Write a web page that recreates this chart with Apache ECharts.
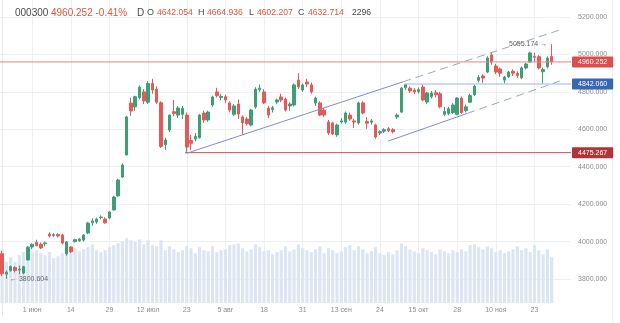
<!DOCTYPE html>
<html>
<head>
<meta charset="utf-8">
<script src="https://cdn.jsdelivr.net/npm/echarts@6/dist/echarts.min.js"></script>
<style>
  html, body { margin: 0; padding: 0; background: #ffffff; }
  #chart { width: 620px; height: 323px; }
</style>
</head>
<body>
<div id="chart"></div>
<script>
// CSI 300 (000300), daily bars, 22 May – 30 Nov 2020
const ticker = '000300';
const holidays = ['2020-06-25', '2020-06-26', '2020-10-01', '2020-10-02',
  '2020-10-05', '2020-10-06', '2020-10-07', '2020-10-08'];

const open = [
  3935, 3826, 3846, 3862, 3848, 3832, 3902, 3971, 3997, 3985,
  3988, 4040, 4032, 4038, 4035, 3935, 3971, 4000, 4005, 4008,
  4046, 4100, 4105, 4128, 4120, 4126, 4169, 4244, 4345, 4463,
  4740, 4720, 4770, 4800, 4745, 4845, 4815, 4742, 4518, 4596,
  4694, 4676, 4680, 4676, 4540, 4548, 4555, 4687, 4650, 4730,
  4800, 4770, 4774, 4741, 4680, 4735, 4666, 4655, 4623, 4719,
  4812, 4800, 4714, 4706, 4746, 4773, 4762, 4725, 4730, 4863,
  4810, 4853, 4837, 4740, 4741, 4703, 4639, 4634, 4570, 4639,
  4639, 4676, 4645, 4634, 4741, 4642.054, 4638, 4623, 4580, 4590,
  4603, 4598, 4666, 4692, 4822, 4820, 4810, 4802, 4826, 4746,
  4775, 4795, 4790, 4680, 4685, 4690, 4680, 4767, 4700, 4745,
  4785, 4862, 4885, 4906, 4997, 4938, 4922, 4863, 4880, 4910,
  4898, 4875, 4928, 4960, 4990, 4988, 4908, 4935, 4990
];
const close = [
  3828, 3836, 3866, 3845, 3852, 3866, 3970, 3985, 3978, 3966,
  3993, 4030, 4037, 4030, 3992, 3998, 3945, 4010, 4013, 4035,
  4099, 4110, 4120, 4131, 4100, 4158, 4238, 4329, 4409, 4666,
  4698, 4774, 4825, 4752, 4845, 4810, 4745, 4508, 4543, 4676,
  4685, 4714, 4712, 4505, 4525, 4562, 4676, 4650, 4692, 4773,
  4780, 4776, 4757, 4703, 4725, 4682, 4634, 4630, 4703, 4815,
  4820, 4741, 4676, 4715, 4757, 4757, 4703, 4735, 4837, 4826,
  4837, 4842, 4800, 4767, 4676, 4676, 4580, 4575, 4623, 4645,
  4687, 4655, 4639, 4741, 4687, 4632.714, 4645, 4559, 4587, 4598,
  4592, 4587, 4676, 4820, 4838, 4805, 4800, 4812, 4757, 4794,
  4794, 4785, 4720, 4695, 4710, 4730, 4767, 4690, 4720, 4780,
  4830, 4878, 4874, 4981, 4960, 4906, 4900, 4879, 4906, 4900,
  4887, 4928, 4949, 5008, 4985, 4928, 4920, 4980.77, 4960.252
];
const low = [
  3815, 3800.604, 3838, 3835, 3826, 3825, 3898, 3960, 3975, 3960,
  3975, 4022, 4025, 4022, 3985, 3925, 3938, 3995, 3998, 4000,
  4040, 4085, 4095, 4118, 4095, 4120, 4165, 4240, 4340, 4460,
  4672, 4700, 4760, 4735, 4735, 4790, 4735, 4500, 4490, 4585,
  4670, 4660, 4655, 4475.267, 4490, 4535, 4550, 4635, 4640, 4720,
  4770, 4755, 4740, 4690, 4670, 4655, 4570, 4620, 4615, 4710,
  4800, 4735, 4660, 4690, 4735, 4745, 4695, 4700, 4722, 4815,
  4800, 4825, 4790, 4725, 4670, 4665, 4570, 4568, 4560, 4630,
  4630, 4645, 4607, 4625, 4680, 4602.207, 4625, 4550, 4570, 4580,
  4585, 4578, 4655, 4688, 4810, 4795, 4788, 4790, 4750, 4735,
  4765, 4770, 4712, 4670, 4675, 4682, 4675, 4683, 4690, 4740,
  4778, 4850, 4848, 4900, 4945, 4895, 4880, 4845, 4875, 4885,
  4875, 4868, 4920, 4955, 4960, 4920, 4845, 4925, 4945
];
const high = [
  3950, 3845, 3872, 3868, 3872, 3870, 3975, 3990, 4010, 3995,
  4000, 4050, 4045, 4045, 4042, 4003, 3975, 4015, 4020, 4040,
  4105, 4125, 4128, 4140, 4130, 4162, 4245, 4335, 4418, 4672,
  4768, 4780, 4835, 4815, 4858, 4870, 4830, 4750, 4555, 4680,
  4757, 4725, 4725, 4690, 4570, 4580, 4682, 4700, 4700, 4780,
  4822, 4790, 4785, 4750, 4735, 4760, 4675, 4665, 4710, 4825,
  4840, 4815, 4725, 4725, 4765, 4790, 4770, 4745, 4845, 4900,
  4845, 4870, 4850, 4775, 4750, 4715, 4650, 4640, 4630, 4660,
  4695, 4690, 4655, 4748, 4750, 4664.936, 4655, 4630, 4595, 4606,
  4612, 4606, 4685, 4826, 4842.06, 4830, 4820, 4825, 4838, 4800,
  4805, 4810, 4800, 4720, 4720, 4740, 4772, 4775, 4732, 4790,
  4838, 4890, 4895, 4990, 5010, 4950, 4930, 4885, 4912, 4920,
  4910, 4935, 4955, 5015, 5010, 4996, 4930, 4990, 5055.174
];
const volume = [
  2440, 1890, 2120, 1890, 2210, 2350, 2620, 2350, 2440, 2300,
  2210, 2350, 2070, 2160, 2300, 2440, 2300, 2530, 2390, 2480,
  2580, 2710, 2440, 2350, 2440, 2580, 2670, 2760, 2850, 2990,
  2900, 2810, 2940, 2710, 2900, 2670, 2620, 2900, 2440, 2620,
  2480, 2350, 2440, 2620, 2530, 2300, 2580, 2440, 2390, 2620,
  2350, 2440, 2480, 2670, 2710, 2760, 2530, 2390, 2480, 2710,
  2580, 2390, 2440, 2250, 2350, 2440, 2620, 2390, 2480, 2710,
  2530, 2440, 2350, 2480, 2620, 2300, 2530, 2440, 2300, 2390,
  2580, 2670, 2440, 2620, 2480, 2296, 2390, 2580, 2300, 2210,
  2350, 2250, 2440, 2760, 2620, 2480, 2390, 2300, 2530, 2440,
  2350, 2250, 2480, 2390, 2300, 2440, 2350, 2480, 2390, 2670,
  2710, 2580, 2480, 2620, 2530, 2350, 2440, 2300, 2390, 2480,
  2620, 2440, 2530, 2350, 2670, 2440, 2250, 2480, 2120
];

// Date labels under the axis, keyed by the bar they sit on
const xTicks = {
  '2020-06-02': '1 июн', '2020-06-15': '14', '2020-06-30': '29',
  '2020-07-13': '12 июл', '2020-07-24': '23', '2020-08-06': '5 авг',
  '2020-08-19': '18', '2020-09-01': '31', '2020-09-14': '13 сен',
  '2020-09-25': '24', '2020-10-16': '15 окт', '2020-10-29': '28',
  '2020-11-11': '10 ноя', '2020-11-24': '23'
};

// Horizontal levels: price and the bar they start from (null = whole width)
const levels = [
  { price: 4960.252, from: null, line: '#ee8080', box: '#e04c4c' },
  { price: 4842.06, from: '2020-10-13', line: '#9fb5de', box: '#3667b0' },
  { price: 4475.267, from: '2020-07-24', line: '#bf5652', box: '#b23535' }
];

// Channel lines as [bar index, price]; solid up to `solidTo`, dashed beyond
const channels = [
  { a: [43, 4472], b: [129.9, 5131], solidTo: 93.4 },
  { a: [89.9, 4537], b: [129.9, 4858], solidTo: 108.3 }
];

// Bar the legend row describes
const legendBar = '2020-09-22';

function tradingDays(from, to, skip) {
  const out = [];
  const d = new Date(from + 'T00:00:00Z');
  const end = new Date(to + 'T00:00:00Z');
  while (d <= end) {
    const s = d.toISOString().slice(0, 10);
    const wd = d.getUTCDay();
    if (wd !== 0 && wd !== 6 && skip.indexOf(s) < 0) out.push(s);
    d.setUTCDate(d.getUTCDate() + 1);
  }
  return out;
}

// four spare sessions on the right leave room before the price scale
const dates = tradingDays('2020-05-22', '2020-12-04', holidays);
const n = close.length;
const xMax = dates.length - 0.5;

const up = '#3d9f74', down = '#e35a58', red = '#e0553f', ink = '#4a4a4a';
const font = 'Liberation Sans, Arial, sans-serif';

const candles = open.map((o, i) => [o, close[i], low[i], high[i]]);
const lastClose = close[n - 1];
const chg = (lastClose - close[n - 2]) / close[n - 2] * 100;
const li = dates.indexOf(legendBar);

let lowIdx = 0, highIdx = 0;
for (let i = 1; i < n; i++) {
  if (low[i] < low[lowIdx]) lowIdx = i;
  if (high[i] > high[highIdx]) highIdx = i;
}

function along(ch, x) {
  const t = (x - ch.a[0]) / (ch.b[0] - ch.a[0]);
  return [x, ch.a[1] + t * (ch.b[1] - ch.a[1])];
}

const series = [];
series.push({
  type: 'bar', xAxisIndex: 1, yAxisIndex: 1, data: volume,
  barWidth: '74%', silent: true, z: 1,
  itemStyle: { color: '#dbe6f2' }
});
series.push({
  type: 'candlestick', xAxisIndex: 0, yAxisIndex: 0, data: candles,
  barWidth: 3, z: 3, silent: true,
  itemStyle: { color: up, color0: down, borderColor: up, borderColor0: down, borderWidth: 1 },
  markPoint: {
    symbol: 'circle', symbolSize: 1, silent: true,
    itemStyle: { color: 'rgba(0,0,0,0)' },
    label: { show: true, fontSize: 7, color: '#666', fontFamily: font },
    data: [
      { coord: [dates[lowIdx], low[lowIdx]],
        label: { position: 'right', distance: 3, formatter: '\u2190 ' + low[lowIdx].toFixed(3) } },
      { coord: [dates[highIdx], high[highIdx]],
        label: { position: 'left', distance: 4, formatter: high[highIdx].toFixed(3) + ' \u2192' } }
    ]
  }
});
levels.forEach(lv => {
  const x0 = lv.from ? dates.indexOf(lv.from) - 0.4 : -0.5;
  series.push({
    type: 'line', xAxisIndex: 2, yAxisIndex: 0, symbol: 'none', silent: true, z: 4,
    data: [[x0, lv.price], [xMax, lv.price]],
    lineStyle: { color: lv.line, width: 1 },
    endLabel: {
      show: true, distance: 1, formatter: () => lv.price.toFixed(3),
      backgroundColor: lv.box, color: '#fff', fontSize: 7, fontFamily: font,
      padding: [2, 6], borderRadius: 1
    }
  });
});
channels.forEach(ch => {
  const mid = along(ch, ch.solidTo);
  series.push({
    type: 'line', xAxisIndex: 2, yAxisIndex: 0, symbol: 'none', silent: true, z: 4,
    data: [ch.a, mid], lineStyle: { color: '#8090bd', width: 1 }
  });
  series.push({
    type: 'line', xAxisIndex: 2, yAxisIndex: 0, symbol: 'none', silent: true, z: 4,
    data: [mid, ch.b], lineStyle: { color: '#9ba7c6', width: 1, type: [8, 5] }
  });
});

const split = '#eceff3';
const priceSplitColors = ['rgba(0,0,0,0)'];
for (let i = 0; i < 8; i++) priceSplitColors.push(split);
priceSplitColors.push('rgba(0,0,0,0)');

const isTick = (idx, val) => Object.prototype.hasOwnProperty.call(xTicks, val);

const legendParts = [
  { t: ticker, x: 15, c: ink, s: 10 },
  { t: lastClose.toFixed(3) + ' ' + chg.toFixed(2) + '%', x: 51, c: red, s: 10 },
  { t: 'D', x: 137, c: ink, s: 10 },
  { t: 'O', x: 147, c: ink, s: 9 },
  { t: open[li].toFixed(3), x: 157, c: red, s: 8.6 },
  { t: 'H', x: 198, c: ink, s: 9 },
  { t: high[li].toFixed(3), x: 207, c: red, s: 8.6 },
  { t: 'L', x: 249, c: ink, s: 9 },
  { t: low[li].toFixed(3), x: 257, c: red, s: 8.6 },
  { t: 'C', x: 298, c: ink, s: 9 },
  { t: close[li].toFixed(3), x: 308, c: red, s: 8.6 },
  { t: String(volume[li]), x: 352, c: ink, s: 8.6 }
];

const option = {
  animation: false,
  backgroundColor: '#ffffff',
  textStyle: { fontFamily: font },
  grid: [
    { left: 0, right: 49, top: 0, bottom: 6.6 },
    { left: 0, right: 49, top: 0, bottom: 20 }
  ],
  xAxis: [
    { type: 'category', gridIndex: 0, data: dates, show: false },
    {
      type: 'category', gridIndex: 1, data: dates,
      axisLine: { show: false }, axisTick: { show: false },
      axisLabel: {
        interval: isTick, formatter: v => xTicks[v] || '',
        fontSize: 7, color: '#8d8d8d', margin: 4, fontFamily: font
      },
      splitLine: { show: true, interval: isTick, alignWithLabel: true, lineStyle: { color: split, width: 1 } }
    },
    { type: 'value', gridIndex: 0, min: -0.5, max: xMax, show: false }
  ],
  yAxis: [
    {
      type: 'value', gridIndex: 0, position: 'right', min: 3600, max: 5291.2, interval: 200,
      axisLine: { show: true, lineStyle: { color: '#e4e7eb' } },
      axisTick: { show: false },
      axisLabel: {
        formatter: v => v.toFixed(3), fontSize: 7, color: '#8d8d8d', margin: 7,
        showMinLabel: false, showMaxLabel: false, fontFamily: font
      },
      splitLine: { lineStyle: { color: priceSplitColors, width: 1 } }
    },
    { type: 'value', gridIndex: 1, min: 0, max: 14000, show: false }
  ],
  series: series,
  graphic: [
    { type: 'line', shape: { x1: 612.5, y1: 0, x2: 612.5, y2: 323 }, style: { stroke: '#eceef1', lineWidth: 1 }, silent: true }
  ].concat(legendParts.map(p => ({
    type: 'text', x: p.x, y: 13, silent: true, z: 10,
    style: { text: p.t, fill: p.c, fontSize: p.s, fontFamily: font, verticalAlign: 'middle' }
  })))
};

const chart = echarts.init(document.getElementById('chart'));
chart.setOption(option);
</script>
</body>
</html>
